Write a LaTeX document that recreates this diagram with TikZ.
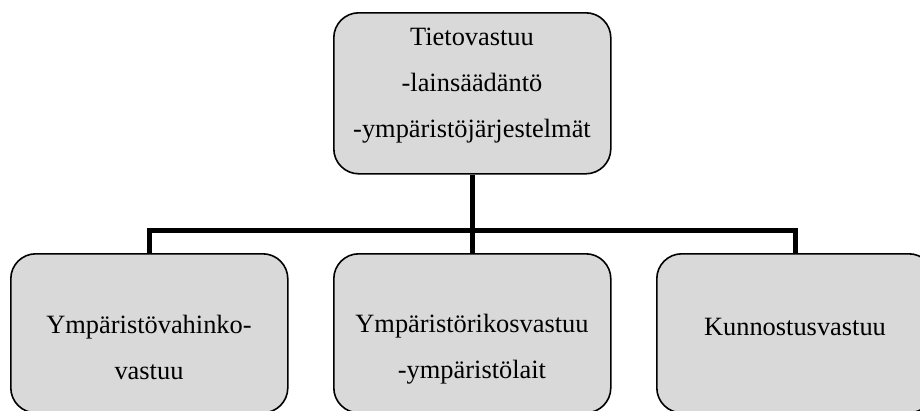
\documentclass[tikz,border=0pt]{standalone}
\usepackage{fontspec}
\setmainfont{Liberation Serif}
\definecolor{boxfill}{HTML}{D9D9D9}
\begin{document}
\begin{tikzpicture}[x=1pt,y=-1pt,
  box/.style={draw=black, line width=1.6pt, fill=boxfill, rounded corners=25pt,
    minimum width=277pt, inner sep=0pt, anchor=north west},
  txt/.style={font=\fontsize{26.4}{30}\selectfont, anchor=base, inner sep=0pt},
  conn/.style={line width=5pt, black}]
\useasboundingbox (0,0) rectangle (920,410);
\node[box, minimum height=161pt] (top) at (333,12) {};
\node[box, minimum height=159pt] (b1) at (10,253) {};
\node[box, minimum height=159pt] (b2) at (333,253) {};
\node[box, minimum height=159pt] (b3) at (656,253) {};
\coordinate (hub) at (top.south |- 0,230);
\draw[conn] (top.south) -- (hub);
\draw[conn] (b1.north) |- (hub);
\draw[conn] (b3.north) |- (hub);
\draw[conn] (hub) -- (b2.north);
\node[txt] (t1) at (472,45) {Tietovastuu};
\node[txt] (t2) at (472,91) {-lainsäädäntö};
\node[txt] (t3) at (472,137) {-ympäristöjärjestelmät};
\node[txt] (l1) at (149,333) {Ympäristövahinko-};
\node[txt] (l2) at (149,379) {vastuu};
\node[txt] (m1) at (472,332) {Ympäristörikosvastuu};
\node[txt] (m2) at (472,378) {-ympäristölait};
\node[txt] (r1) at (795,335) {Kunnostusvastuu};
\end{tikzpicture}
\end{document}
